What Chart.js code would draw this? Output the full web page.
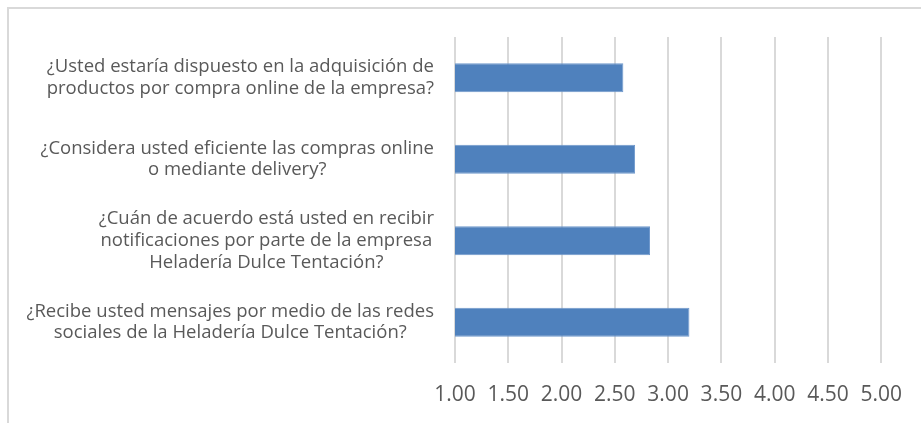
<!DOCTYPE html>
<html>
<head>
<meta charset="utf-8">
<script src="https://cdn.jsdelivr.net/npm/chart.js@4"></script>
<style>
    body { margin: 0; background: #fff; }
    #wrap { position: relative; width: 921px; height: 423px; }
</style>
</head>
<body>
<div id="wrap"><canvas id="canvas"></canvas></div>
<script>
// questions, top to bottom, split in lines as in the picture
const questions = [
    ['¿Usted estaría dispuesto en la adquisición de', 'productos por compra online de la empresa?'],
    ['¿Considera usted eficiente las compras online', 'o mediante delivery?'],
    ['¿Cuán de acuerdo está usted en recibir', 'notificaciones por parte de la empresa', 'Heladería Dulce Tentación?'],
    ['¿Recibe usted mensajes por medio de las redes', 'sociales de la Heladería Dulce Tentación?'],
];
const scores = [2.58, 2.69, 2.83, 3.2];
const xMin = 1;
const xMax = 5;
const xStep = 0.5;

const gray = '#d9d9d9';
const textColor = '#595959';
const fontFamily = '"Open Sans", "Liberation Sans", sans-serif';

// outer frame: only the top and left lines show
const framePlugin = {
    id: 'frame',
    beforeDraw(chart) {
        const ctx = chart.ctx;
        ctx.save();
        ctx.strokeStyle = gray;
        ctx.lineWidth = 2;
        ctx.beginPath();
        ctx.moveTo(8, chart.height);
        ctx.lineTo(8, 8);
        ctx.lineTo(chart.width, 8);
        ctx.stroke();
        ctx.restore();
    },
};

// category labels: each block centred on itself, right edge by the axis
const questionLabels = {
    id: 'questionLabels',
    afterDraw(chart) {
        const ctx = chart.ctx;
        const yScale = chart.scales.y;
        const right = chart.chartArea.left - 21;
        const lineHeight = 21.7;
        ctx.save();
        ctx.font = '18.5px ' + fontFamily;
        ctx.fillStyle = textColor;
        ctx.textAlign = 'center';
        ctx.textBaseline = 'middle';
        questions.forEach((lines, i) => {
            const y = yScale.getPixelForValue(i);
            const widest = Math.max(...lines.map((l) => ctx.measureText(l).width));
            const cx = right - widest / 2;
            const top = y - ((lines.length - 1) * lineHeight) / 2;
            lines.forEach((line, j) => {
                ctx.fillText(line, cx, top + j * lineHeight);
            });
        });
        ctx.restore();
    },
};

new Chart('canvas', {
    type: 'bar',
    data: {
        labels: questions,
        datasets: [
            {
                data: scores,
                backgroundColor: '#4f81bd',
                borderColor: '#6f98cc',
                borderWidth: 1,
                borderSkipped: 'start',
                barPercentage: 0.355,
                categoryPercentage: 1,
            },
        ],
    },
    options: {
        indexAxis: 'y',
        responsive: true,
        maintainAspectRatio: false,
        animation: false,
        layout: { padding: { top: 37, right: 38, bottom: 0, left: 0 } },
        plugins: {
            legend: { display: false },
            tooltip: { enabled: false },
        },
        scales: {
            x: {
                min: xMin,
                max: xMax,
                grid: { color: gray, lineWidth: 2, drawTicks: false },
                border: { display: false },
                ticks: {
                    stepSize: xStep,
                    padding: 19,
                    maxRotation: 0,
                    color: textColor,
                    font: { family: fontFamily, size: 21 },
                    callback: (v) => Number(v).toFixed(2),
                },
                afterFit: (scale) => {
                    scale.height = 60;
                },
            },
            y: {
                grid: { display: false },
                border: { display: false },
                ticks: { display: false },
                afterFit: (scale) => {
                    scale.width = 455;
                },
            },
        },
    },
    plugins: [framePlugin, questionLabels],
});
</script>
</body>
</html>
